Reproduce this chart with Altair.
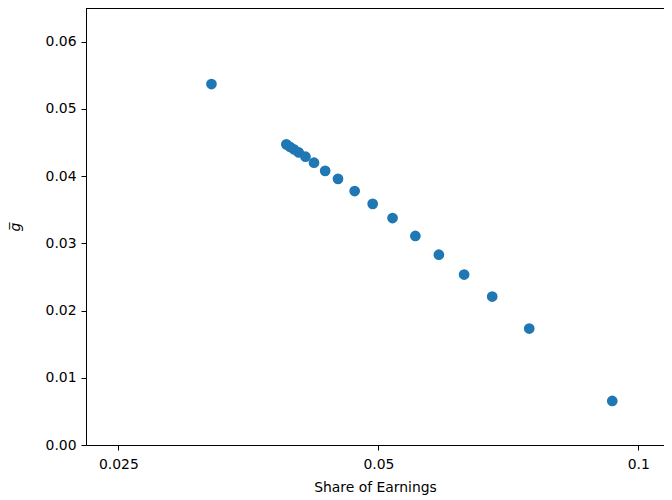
import altair as alt
import pandas as pd

share_of_earnings = [0.03204, 0.03912, 0.03949, 0.03991, 0.04044, 0.04117,
                     0.04212, 0.04339, 0.04490, 0.04694, 0.04925, 0.05193,
                     0.05519, 0.05876, 0.06285, 0.06774, 0.07477, 0.09330]
g_bar = [0.05369, 0.04472, 0.04435, 0.04398, 0.04351, 0.04288,
         0.04199, 0.04078, 0.03959, 0.03777, 0.03587, 0.03376,
         0.03109, 0.02830, 0.02535, 0.02208, 0.01732, 0.00655]
x_ticks = [0.025, 0.05, 0.1]
y_ticks = [0.0, 0.01, 0.02, 0.03, 0.04, 0.05, 0.06]

df = pd.DataFrame({"share": share_of_earnings, "g": g_bar})

W, H = 578, 437
FONT = "DejaVu Sans"

points = alt.Chart(df).mark_circle(size=115, color="#1f77b4", opacity=1).encode(
    x=alt.X("share:Q",
            scale=alt.Scale(type="log", domain=[0.02293, 0.1071], nice=False),
            axis=alt.Axis(values=x_ticks, format=".3~g", title="Share of Earnings",
                          grid=False, domainColor="black", domainWidth=1,
                          tickColor="black", tickSize=5, tickWidth=1,
                          labelColor="black", labelFont=FONT, labelFontSize=13.9,
                          labelPadding=7, titleFont=FONT, titleFontSize=13.9,
                          titleFontWeight="normal", titleColor="black",
                          titlePadding=10, labelFlush=False)),
    y=alt.Y("g:Q",
            scale=alt.Scale(domain=[0, 0.065], nice=False, zero=False),
            axis=alt.Axis(values=y_ticks, format=".2f", title="g\u0305",
                          grid=False, domainColor="black", domainWidth=1,
                          tickColor="black", tickSize=5, tickWidth=1,
                          labelColor="black", labelFont=FONT, labelFontSize=13.9,
                          labelPadding=5, titleFont=FONT, titleFontSize=13.9,
                          titleFontWeight="normal", titleFontStyle="italic",
                          titleColor="black", titleX=-64, labelFlush=False)),
)

top_rule = alt.Chart(df).mark_rule(color="black", strokeWidth=1).encode(
    x=alt.value(0), x2=alt.value(W), y=alt.value(0)
)

chart = alt.layer(points, top_rule).properties(
    width=W, height=H,
    autosize=alt.AutoSizeParams(type="none"),
    padding={"left": 78, "top": 0, "right": 0, "bottom": 54},
).configure_view(stroke=None)

chart.save("out.html", embed_options={"renderer": "svg", "actions": False})
